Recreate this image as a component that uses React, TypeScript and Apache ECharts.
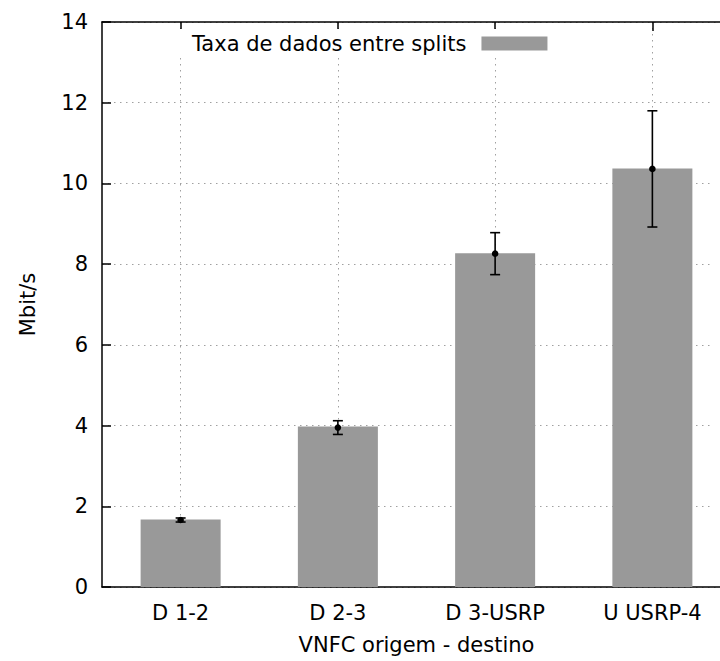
import React, { useEffect, useRef } from "react";
import * as echarts from "echarts";

// Data: mean throughput between VNFC splits (Mbit/s) with error half-widths
const categories = ["D 1-2", "D 2-3", "D 3-USRP", "U USRP-4"];
const barValues = [1.67, 3.98, 8.27, 10.37];
const meanValues = [1.66, 3.95, 8.26, 10.36];
const errorValues = [0.05, 0.17, 0.52, 1.44];
const yTicks = { min: 0, max: 14, interval: 2 };
const seriesName = "Taxa de dados entre splits";

const FONT = "DejaVu Sans";
const FS = 21;

export default function App() {
  const ref = useRef<HTMLDivElement>(null);

  useEffect(() => {
    if (!ref.current) return;
    const chart = echarts.init(ref.current, undefined, { renderer: "svg" });

    const errData = categories.map((_, i) => [
      i,
      meanValues[i],
      meanValues[i] - errorValues[i],
      meanValues[i] + errorValues[i],
    ]);

    const gridLine = { color: "#a0a0a0", width: 1, type: [1.5, 4.5] as any };
    const axisStroke = { color: "#000", width: 1.5 };

    chart.setOption({
      animation: false,
      backgroundColor: "#fff",
      textStyle: { fontFamily: FONT },
      grid: {
        left: 102,
        top: 22,
        width: 629,
        height: 565,
        containLabel: false,
        outerBoundsMode: "none",
      } as any,
      legend: {
        data: [{ name: seriesName, icon: "rect" }],
        left: 178,
        top: 29,
        align: "right",
        itemWidth: 66,
        itemHeight: 14,
        padding: [4, 10, 4, 14],
        backgroundColor: "#fff",
        textStyle: { fontSize: FS, fontFamily: FONT, color: "#000", padding: [0, 10, 0, 0] },
      },
      // keeps the open right side of the frame clear
      graphic: [
        {
          type: "rect",
          z: 100,
          silent: true,
          shape: { x: 713, y: 23.5, width: 12, height: 562 },
          style: { fill: "#fff" },
        },
      ],
      xAxis: [
        {
          type: "category",
          data: categories,
          position: "bottom",
          boundaryGap: true,
          axisLine: { lineStyle: axisStroke },
          axisTick: { inside: true, alignWithLabel: true, length: 9, lineStyle: axisStroke },
          axisLabel: { fontSize: FS, color: "#000", fontFamily: FONT, margin: 15 },
          splitLine: { show: true, alignWithLabel: true, lineStyle: gridLine } as any,
          name: "VNFC origem - destino",
          nameLocation: "middle",
          nameGap: 47,
          nameTextStyle: { fontSize: FS, color: "#000", fontFamily: FONT },
        },
        {
          type: "category",
          data: categories,
          position: "top",
          boundaryGap: true,
          axisLine: { lineStyle: axisStroke },
          axisTick: { show: true, inside: true, alignWithLabel: true, length: 9, lineStyle: axisStroke },
          axisLabel: { show: false },
          splitLine: { show: false },
        },
      ],
      yAxis: {
        type: "value",
        min: yTicks.min,
        max: yTicks.max,
        interval: yTicks.interval,
        axisLine: { show: true, lineStyle: axisStroke },
        axisTick: { show: true, inside: true, length: 9, lineStyle: axisStroke },
        axisLabel: { fontSize: FS, color: "#000", fontFamily: FONT, margin: 14 },
        splitLine: { show: true, lineStyle: gridLine },
        name: "Mbit/s",
        nameLocation: "middle",
        nameGap: 64,
        nameRotate: 90,
        nameTextStyle: { fontSize: FS, color: "#000", fontFamily: FONT },
      },
      series: [
        {
          name: seriesName,
          type: "bar",
          xAxisIndex: 0,
          data: barValues,
          barWidth: 80,
          itemStyle: { color: "#999999" },
          z: 2,
        },
        {
          type: "custom",
          xAxisIndex: 0,
          data: errData,
          z: 5,
          renderItem: (params: any, api: any) => {
            const x = api.value(0);
            const mid = api.coord([x, api.value(1)]);
            const lo = api.coord([x, api.value(2)]);
            const hi = api.coord([x, api.value(3)]);
            const cap = 5;
            const style = { stroke: "#000", lineWidth: 1.6 };
            return {
              type: "group",
              children: [
                { type: "line", shape: { x1: mid[0], y1: lo[1], x2: mid[0], y2: hi[1] }, style },
                { type: "line", shape: { x1: mid[0] - cap, y1: hi[1], x2: mid[0] + cap, y2: hi[1] }, style },
                { type: "line", shape: { x1: mid[0] - cap, y1: lo[1], x2: mid[0] + cap, y2: lo[1] }, style },
                { type: "circle", shape: { cx: mid[0], cy: mid[1], r: 3.3 }, style: { fill: "#000" } },
              ],
            };
          },
        },
      ],
    });

    return () => chart.dispose();
  }, []);

  // The plot frame runs past the visible right edge, so the chart is
  // drawn wider and the outer box crops it to the page size.
  return (
    <div style={{ position: "absolute", left: 0, top: 0, width: 720, height: 661, overflow: "hidden" }}>
      <div ref={ref} style={{ width: 780, height: 661 }} />
    </div>
  );
}
